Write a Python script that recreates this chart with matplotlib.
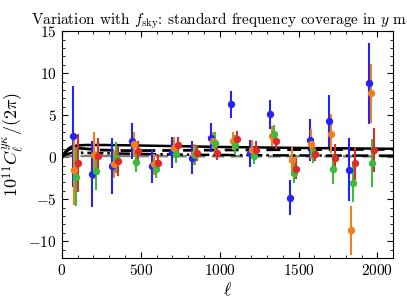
import numpy as np
import matplotlib.pyplot as plt
from matplotlib.ticker import MultipleLocator

plt.rcParams['font.family'] = 'serif'
plt.rcParams['font.serif'] = ['cmr10', 'DejaVu Serif']
plt.rcParams['mathtext.fontset'] = 'cm'
plt.rcParams['axes.formatter.use_mathtext'] = True

# bin positions (blue point of each group), other series are shifted a little
ell_bins = [68, 193, 320, 447, 571, 698, 823, 946, 1071, 1194, 1321, 1445, 1570, 1695, 1820, 1945]
offsets = [0, 12, 24, 36]

blue_y = [2.5, -2.0, -1.07, 1.94, -1.03, 0.56, -0.04, 2.34, 6.3, 0.44, 5.1, -4.8, 2.1, 4.3, -1.47, 8.8]
blue_err = [6.0, 3.95, 3.3, 2.1, 2.05, 1.8, 1.97, 1.7, 1.6, 1.65, 1.75, 2.1, 2.5, 3.1, 3.8, 4.8]

orange_y = [-1.55, 0.24, -0.87, 1.55, -0.87, 1.15, 0.36, 1.94, 1.94, 0.91, 2.5, -0.28, 1.55, 2.8, -8.7, 7.6]
orange_err = [4.1, 2.8, 1.65, 1.5, 1.3, 1.2, 1.25, 1.0, 1.05, 1.1, 1.2, 1.45, 1.8, 2.3, 2.9, 3.5]

green_y = [-2.3, -1.6, -0.04, -0.55, -1.43, 0.4, 0.2, 1.7, 1.43, 0.12, 2.8, -1.83, 0.63, -1.39, -3.05, -0.68]
green_err = [3.5, 2.25, 1.9, 1.2, 1.05, 1.05, 1.1, 1.25, 1.2, 0.95, 1.05, 1.2, 1.35, 1.8, 2.25, 2.85]

red_y = [-0.7, 0.12, -0.48, 0.75, -0.71, 1.43, 0.52, 0.52, 2.2, 0.83, 1.94, -1.35, 0.36, -0.04, -0.75, 0.83]
red_err = [3.45, 2.2, 1.8, 1.2, 1.1, 0.95, 0.95, 0.8, 0.95, 1.05, 1.0, 1.2, 0.85, 1.65, 1.95, 2.6]

# theory curves
ell_th = [0, 20, 40, 60, 100, 150, 250, 400, 700, 1000, 1500, 2100]
solid_th = [0.0, 0.6, 1.0, 1.25, 1.4, 1.45, 1.45, 1.42, 1.32, 1.22, 1.1, 1.0]
dashed_th = [0.0, 0.5, 0.85, 1.05, 1.08, 1.0, 0.85, 0.78, 0.8, 0.85, 0.9, 0.92]
dashdot_th = [0.0, 0.25, 0.4, 0.5, 0.55, 0.52, 0.48, 0.42, 0.32, 0.26, 0.2, 0.18]
grey_th = [0.0, 0.05, 0.1, 0.12, 0.14, 0.15, 0.15, 0.14, 0.12, 0.11, 0.1, 0.1]

colors = ['#2424f5', '#f07f1c', '#3dbb3d', '#dd2a2a']
series = [(blue_y, blue_err), (orange_y, orange_err), (green_y, green_err), (red_y, red_err)]

fig = plt.figure(figsize=(4.07, 3.05), dpi=100)
ax = fig.add_axes([0.152, 0.154, 0.814, 0.744])

ax.plot(ell_th, grey_th, color='grey', ls='--', lw=1.8, dashes=(5, 2.5))
ax.plot(ell_th, dashdot_th, color='black', ls='-.', lw=1.8)
ax.plot(ell_th, dashed_th, color='black', ls='--', lw=2.0, dashes=(5, 2.5))
ax.plot(ell_th, solid_th, color='black', ls='-', lw=1.8)

for (y, e), c, off in zip(series, colors, offsets):
    x = np.array(ell_bins) + off
    ax.errorbar(x, y, yerr=e, fmt='o', color=c, ms=4.3, elinewidth=1.5, capsize=0)

ax.set_xlim(0, 2100)
ax.set_ylim(-12, 15)
ax.xaxis.set_major_locator(MultipleLocator(500))
ax.xaxis.set_minor_locator(MultipleLocator(100))
ax.yaxis.set_major_locator(MultipleLocator(5))
ax.yaxis.set_minor_locator(MultipleLocator(1))
ax.tick_params(which='both', direction='in', top=True, right=True, labelsize=11)
ax.tick_params(which='major', length=4)
ax.tick_params(which='minor', length=2)

ax.set_xlabel(r'$\ell$', fontsize=13, labelpad=2)
ax.set_ylabel(r'$10^{11}C_\ell^{y\kappa}/(2\pi)$', fontsize=13, labelpad=2)
ax.set_title(r'Variation with $f_{\rm sky}$: standard frequency coverage in $y$ map', fontsize=11, pad=3)

fig.savefig('out.png', dpi=100)
